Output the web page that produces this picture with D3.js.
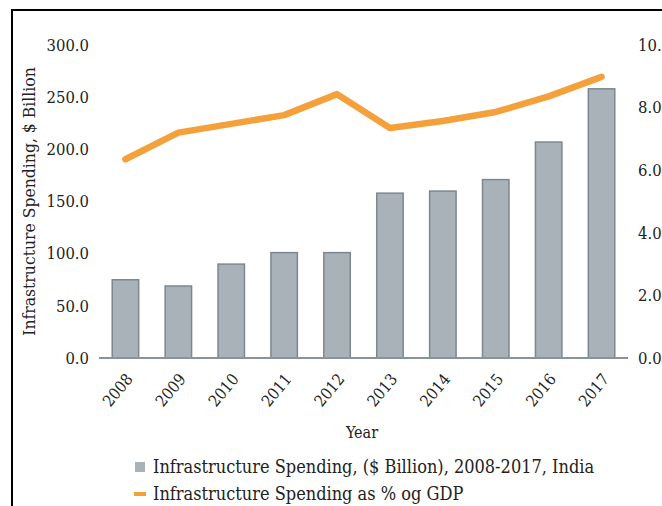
<!DOCTYPE html>
<html lang="en">
<head>
    <meta charset="UTF-8">
    <title>Infrastructure Spending, India</title>
    <style>
        body { margin: 0; background: #fff; }
        svg text { font-family: "DejaVu Serif Condensed", "DejaVu Serif", serif; font-stretch: condensed; fill: #222; }
        .axis .domain { display: none; }
        .axis line { display: none; }
    </style>
</head>
<body>
    <div id="chart"></div>

    <script src="https://d3js.org/d3.v7.min.js"></script>

    <script>
        const years = ["2008", "2009", "2010", "2011", "2012", "2013", "2014", "2015", "2016", "2017"];
        const spending = [75, 69, 90, 101, 101, 158, 160, 171, 207, 258];
        const gdpShare = [6.35, 7.2, 7.48, 7.76, 8.43, 7.35, 7.57, 7.86, 8.36, 8.98];
        const leftTicks = [0, 50, 100, 150, 200, 250, 300];
        const rightTicks = [0, 2, 4, 6, 8, 10];

        const W = 662, H = 506;
        const margin = {top: 45, left: 99, right: 34, bottom: 148};
        const width = W - margin.left - margin.right,
            height = H - margin.top - margin.bottom;

        const svg = d3.select("#chart").append("svg")
            .attr("width", W)
            .attr("height", H);

        // ramka
        svg.append("rect")
            .attr("x", 12).attr("y", 10)
            .attr("width", 700).attr("height", 600)
            .attr("fill", "none")
            .attr("stroke", "#000")
            .attr("stroke-width", 2);

        const g = svg.append("g")
            .attr("transform", "translate(" + margin.left + "," + margin.top + ")");

        const x = d3.scaleBand()
            .domain(years)
            .range([0, width])
            .paddingInner(0.5)
            .paddingOuter(0.25);

        const yLeft = d3.scaleLinear().domain([0, 300]).range([height, 0]);
        const yRight = d3.scaleLinear().domain([0, 10]).range([height, 0]);

        // słupki
        g.selectAll("rect.bar")
            .data(spending)
            .enter().append("rect")
            .attr("class", "bar")
            .attr("x", (d, i) => x(years[i]))
            .attr("y", d => yLeft(d))
            .attr("width", x.bandwidth())
            .attr("height", d => height - yLeft(d))
            .attr("fill", "#a9b2b9")
            .attr("stroke", "#7d878f")
            .attr("stroke-width", 1.5);

        // linia bazowa
        g.append("line")
            .attr("x1", 0).attr("x2", width)
            .attr("y1", height).attr("y2", height)
            .attr("stroke", "#8a939b")
            .attr("stroke-width", 2);

        // linia % PKB
        const line = d3.line()
            .x((d, i) => x(years[i]) + x.bandwidth() / 2)
            .y(d => yRight(d));

        g.append("path")
            .datum(gdpShare)
            .attr("d", line)
            .attr("fill", "none")
            .attr("stroke", "#f4a13b")
            .attr("stroke-width", 6.5)
            .attr("stroke-linecap", "round")
            .attr("stroke-linejoin", "round");

        // osie
        g.append("g")
            .attr("class", "axis")
            .call(d3.axisLeft(yLeft).tickValues(leftTicks).tickFormat(d3.format(".1f")).tickSize(0).tickPadding(10))
            .selectAll("text")
            .style("font-size", "16.5px");

        g.append("g")
            .attr("class", "axis")
            .attr("transform", "translate(" + width + ",0)")
            .call(d3.axisRight(yRight).tickValues(rightTicks).tickFormat(d3.format(".1f")).tickSize(0).tickPadding(10))
            .selectAll("text")
            .style("font-size", "16.5px");

        g.append("g")
            .attr("class", "axis")
            .attr("transform", "translate(0," + height + ")")
            .call(d3.axisBottom(x).tickSize(0).tickPadding(0))
            .selectAll("text")
            .style("font-size", "16px")
            .style("text-anchor", "end")
            .attr("x", 0).attr("y", 0)
            .attr("dy", "0.35em")
            .attr("transform", "translate(4,18) rotate(-50)");

        // opisy osi
        svg.append("text")
            .attr("transform", "translate(35," + (margin.top + height / 2) + ") rotate(-90)")
            .style("text-anchor", "middle")
            .style("font-size", "17.4px")
            .text("Infrastructure Spending, $ Billion");

        svg.append("text")
            .attr("x", 362).attr("y", 438)
            .style("text-anchor", "middle")
            .style("font-size", "16px")
            .text("Year");

        // legenda
        const legend = svg.append("g");
        legend.append("rect")
            .attr("x", 135).attr("y", 462)
            .attr("width", 10).attr("height", 10)
            .attr("fill", "#a9b2b9");
        legend.append("text")
            .attr("x", 153).attr("y", 473)
            .style("font-size", "18px")
            .text("Infrastructure Spending, ($ Billion), 2008-2017, India");

        legend.append("line")
            .attr("x1", 134).attr("x2", 146)
            .attr("y1", 494).attr("y2", 494)
            .attr("stroke", "#f4a13b")
            .attr("stroke-width", 4);
        legend.append("text")
            .attr("x", 153).attr("y", 500)
            .style("font-size", "18px")
            .text("Infrastructure Spending as % og GDP");
    </script>
</body>
</html>
